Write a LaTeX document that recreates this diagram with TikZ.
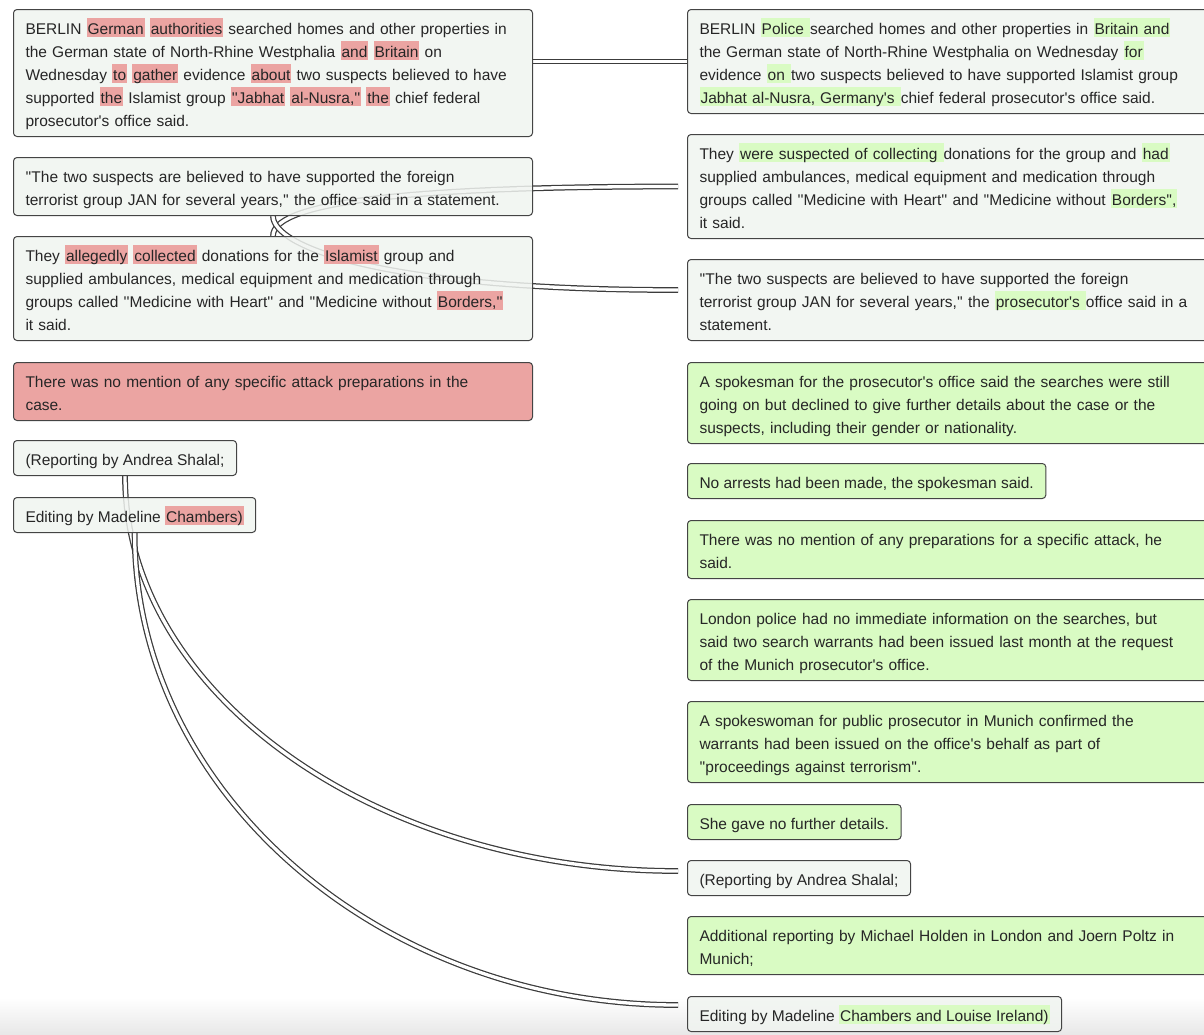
\documentclass[tikz,border=0pt]{standalone}
\usepackage{fontspec}
\newfontfamily\uifont{Liberation Sans}
\usetikzlibrary{calc}
\definecolor{boxgray}{HTML}{F0F4F0}
\definecolor{hlred}{HTML}{EBA4A2}
\definecolor{hlgreen}{HTML}{D9FBC3}
\definecolor{bordercol}{HTML}{444444}
\definecolor{txtcol}{HTML}{262626}
\definecolor{linkcol}{HTML}{3C3C3C}
\newcommand\mystrut{\rule[-4.5pt]{0pt}{23pt}}
\newcommand\lineL[1]{\mbox{\mystrut#1}}
\newcommand\hlr[1]{{\setlength\fboxsep{0pt}\colorbox{hlred}{\rule[-2.8pt]{0pt}{19.3pt}\kern1pt#1\kern1pt}}}
\newcommand\hlg[1]{{\setlength\fboxsep{0pt}\colorbox{hlgreen}{\rule[-2.8pt]{0pt}{19.3pt}\kern1pt#1\kern1pt}}}
\pgfdeclarelayer{bgzero}
\pgfdeclarelayer{bgone}
\pgfsetlayers{bgzero,bgone,main}
\begin{document}
\begin{tikzpicture}[x=1pt,y=-1pt,
  tbox/.style={draw=bordercol, line width=1pt, rounded corners=3.5pt, fill=boxgray,
    fill opacity=0.85, draw opacity=1, text opacity=1, inner xsep=12pt, inner ysep=6pt,
    anchor=north west, font=\uifont\fontsize{15.5}{23}\selectfont, text=txtcol},
  rbox/.style={tbox, fill=hlred, fill opacity=1},
  gbox/.style={tbox, fill=hlgreen, fill opacity=1},
  lwide/.style={text width=495pt, align=left},
  rwide/.style={text width=506pt, align=left},
  link/.style={draw=linkcol, line width=1.25pt, double=white, double distance=3.3pt}
]
\useasboundingbox (0,0) rectangle (1204,1034);
\begin{pgfonlayer}{bgzero}
  \shade[top color=white, bottom color=black!9] (0,998) rectangle (1204,1034);
\end{pgfonlayer}

% left column
\node[tbox, lwide] (L1) at (13,9) {%
\lineL{BERLIN \hlr{German} \hlr{authorities} searched homes and other properties in}\\
\lineL{the German state of North-Rhine Westphalia \hlr{and} \hlr{Britain} on}\\
\lineL{Wednesday \hlr{to} \hlr{gather} evidence \hlr{about} two suspects believed to have}\\
\lineL{supported \hlr{the} Islamist group \hlr{''Jabhat} \hlr{al-Nusra,''} \hlr{the} chief federal}\\
\lineL{prosecutor's office said.}};
\node[tbox, lwide] (L2) at (13,157) {%
\lineL{''The two suspects are believed to have supported the foreign}\\
\lineL{terrorist group JAN for several years,'' the office said in a statement.}};
\node[tbox, lwide] (L3) at (13,236) {%
\lineL{They \hlr{allegedly} \hlr{collected} donations for the \hlr{Islamist} group and}\\
\lineL{supplied ambulances, medical equipment and medication through}\\
\lineL{groups called ''Medicine with Heart'' and ''Medicine without \hlr{Borders,''}}\\
\lineL{it said.}};
\node[rbox, lwide] (L4) at (13,362) {%
\lineL{There was no mention of any specific attack preparations in the}\\
\lineL{case.}};
\node[tbox] (L5) at (13,440) {\lineL{(Reporting by Andrea Shalal;}};
\node[tbox] (L6) at (13,497) {\lineL{Editing by Madeline \hlr{Chambers)}}};

% right column
\node[tbox, rwide] (R1) at (687,9) {%
\lineL{BERLIN \hlg{Police }searched homes and other properties in \hlg{Britain and}}\\
\lineL{the German state of North-Rhine Westphalia on Wednesday \hlg{for}}\\
\lineL{evidence \hlg{on }two suspects believed to have supported Islamist group}\\
\lineL{\hlg{Jabhat al-Nusra, Germany's }chief federal prosecutor's office said.}};
\node[tbox, rwide] (R2) at (687,134) {%
\lineL{They \hlg{were suspected of collecting }donations for the group and \hlg{had}}\\
\lineL{supplied ambulances, medical equipment and medication through}\\
\lineL{groups called ''Medicine with Heart'' and ''Medicine without \hlg{Borders'',}}\\
\lineL{it said.}};
\node[tbox, rwide] (R3) at (687,259) {%
\lineL{''The two suspects are believed to have supported the foreign}\\
\lineL{terrorist group JAN for several years,'' the \hlg{prosecutor's }office said in a}\\
\lineL{statement.}};
\node[gbox, rwide] (R4) at (687,362) {%
\lineL{A spokesman for the prosecutor's office said the searches were still}\\
\lineL{going on but declined to give further details about the case or the}\\
\lineL{suspects, including their gender or nationality.}};
\node[gbox] (R5) at (687,463) {\lineL{No arrests had been made, the spokesman said.}};
\node[gbox, rwide] (R6) at (687,520) {%
\lineL{There was no mention of any preparations for a specific attack, he}\\
\lineL{said.}};
\node[gbox, rwide] (R7) at (687,599) {%
\lineL{London police had no immediate information on the searches, but}\\
\lineL{said two search warrants had been issued last month at the request}\\
\lineL{of the Munich prosecutor's office.}};
\node[gbox, rwide] (R8) at (687,701) {%
\lineL{A spokeswoman for public prosecutor in Munich confirmed the}\\
\lineL{warrants had been issued on the office's behalf as part of}\\
\lineL{''proceedings against terrorism''.}};
\node[gbox] (R9) at (687,804) {\lineL{She gave no further details.}};
\node[tbox] (R10) at (687,860) {\lineL{(Reporting by Andrea Shalal;}};
\node[gbox, rwide] (R11) at (687,916) {%
\lineL{Additional reporting by Michael Holden in London and Joern Poltz in}\\
\lineL{Munich;}};
\node[tbox] (R12) at (687,996) {\lineL{Editing by Madeline \hlg{Chambers and Louise Ireland)}}};

% connectors
\begin{pgfonlayer}{bgone}
  \draw[link] (L1.east |- R1.west) -- (R1.west);
  \draw[link] (L3.north) .. controls ($(L3.north)+(0,-30)$) and ($(R2.west)+(-309,0)$) .. ($(R2.west)+(-9,0)$);
  \draw[link] (L2.south) .. controls ($(L2.south)+(0,30)$) and ($(R3.west)+(-309,-10)$) .. ($(R3.west)+(-9,-10)$);
  \draw[link] (L5.south) .. controls ($(L5.south)+(0,217)$) and ($(R10.west)+(-313,-7)$) .. ($(R10.west)+(-9,-7)$);
  \draw[link] (L6.south) .. controls ($(L6.south)+(0,259)$) and ($(R12.west)+(-308,-9)$) .. ($(R12.west)+(-9,-9)$);
\end{pgfonlayer}
\end{tikzpicture}
\end{document}
